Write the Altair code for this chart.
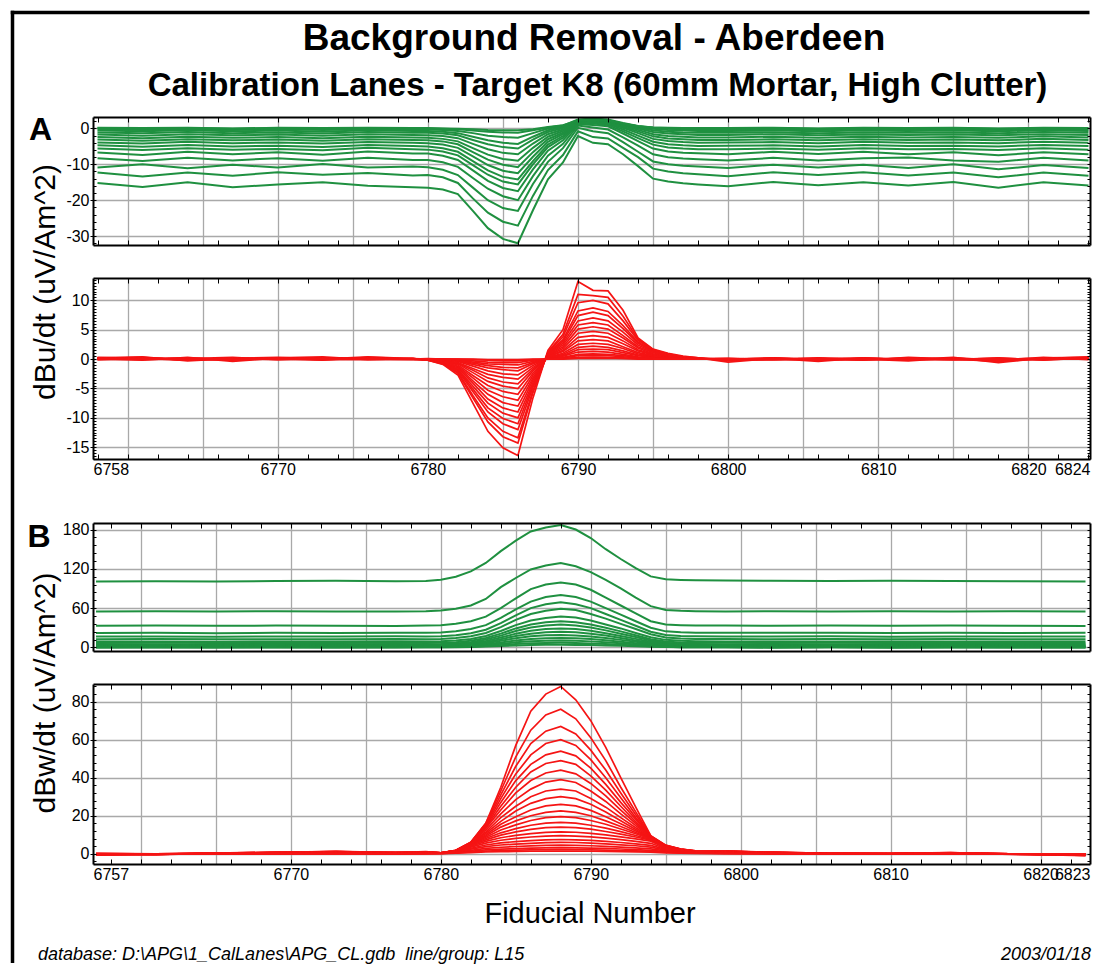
import altair as alt
import pandas as pd

# ---------------- text ----------------
TITLE = ["Background Removal - Aberdeen"]
SUBTITLE = ["Calibration Lanes - Target K8 (60mm Mortar, High Clutter)"]
LABEL_A = ["A"]
LABEL_B = ["B"]
YTITLE_U = ["dBu/dt (uV/Am^2)"]
YTITLE_W = ["dBw/dt (uV/Am^2)"]
XTITLE = ["Fiducial Number"]
FOOT_LEFT = ["database: D:\\APG\\1_CalLanes\\APG_CL.gdb\u00a0 line/group: L15"]
FOOT_RIGHT = ["2003/01/18"]

# ---------------- fiducials ----------------
XA = [6758, 6761, 6764, 6767, 6770, 6773, 6776, 6779,
      6780, 6781, 6782, 6783, 6784, 6785, 6786, 6787, 6788, 6789, 6790,
      6791, 6792, 6793, 6794, 6795, 6796, 6797, 6798,
      6800, 6803, 6806, 6809, 6812, 6815, 6818, 6821, 6824]
XB = [6757, 6761, 6765, 6769, 6773, 6777, 6779,
      6780, 6781, 6782, 6783, 6784, 6785, 6786, 6787, 6788,
      6789, 6790, 6791, 6792, 6793, 6794, 6795, 6796, 6797,
      6799, 6802, 6806, 6810, 6814, 6818, 6823]

# ---------------- A: dBu/dt raw (green) ----------------
A_RAW = [
    [-15.2, -16.3, -15.0, -16.4, -15.6, -15.0, -16.0, -16.4,
     -16.5, -17.0, -18.3, -23.0, -27.8, -30.8, -32.0, -22.8, -14.2, -9.5, -2.1, -4.0, -4.4, -7.2, -10.5, -14.0, -14.8, -15.3, -15.6,
     -16.1, -14.9, -15.8, -15.0, -15.9, -14.9, -16.5, -15.0, -15.9],
    [-12.3, -13.4, -12.3, -13.2, -12.2, -12.9, -12.4, -13.1,
     -13.0, -13.6, -15.2, -19.5, -23.5, -26.0, -27.1, -18.8, -11.6, -7.4, -0.8, -2.4, -2.8, -5.4, -8.0, -11.2, -12.0, -12.5, -12.8,
     -13.3, -12.2, -13.0, -12.2, -13.1, -12.3, -13.6, -12.3, -13.2],
    [-10.9, -10.0, -11.1, -10.1, -10.9, -9.9, -10.9, -10.6,
     -10.8, -11.5, -13.0, -16.5, -20.0, -22.2, -23.0, -15.5, -9.3, -5.5, 0.2, -0.8, -1.3, -3.8, -6.5, -9.2, -10.0, -10.4, -10.6,
     -11.0, -10.1, -10.9, -10.1, -11.0, -10.0, -11.4, -10.2, -11.0],
    [-8.3, -9.1, -8.2, -8.9, -8.3, -9.0, -8.2, -8.8,
     -8.8, -9.4, -10.7, -13.8, -16.8, -18.9, -20.0, -13.3, -7.6, -4.3, 0.8, 0.3, -0.3, -2.5, -4.8, -7.2, -8.0, -8.4, -8.6,
     -8.9, -8.2, -8.9, -8.3, -8.1, -8.9, -9.3, -8.2, -8.9],
    [-6.7, -7.4, -6.5, -7.2, -6.6, -7.3, -6.4, -7.0,
     -7.0, -7.6, -8.8, -11.7, -14.6, -16.6, -17.5, -11.4, -6.2, -3.3, 1.2, 1.0, 0.6, -1.4, -3.5, -5.6, -6.4, -6.8, -6.9,
     -7.2, -6.5, -7.1, -6.5, -7.2, -6.6, -7.5, -6.6, -7.2],
    [-5.6, -6.0, -5.5, -5.9, -5.7, -6.1, -5.4, -5.8,
     -5.9, -6.4, -7.5, -10.2, -12.9, -14.8, -15.6, -10.0, -5.2, -2.6, 1.4, 1.4, 1.0, -0.8, -2.7, -4.5, -5.3, -5.6, -5.8,
     -5.8, -5.6, -5.9, -5.5, -5.8, -5.7, -6.0, -5.5, -5.9],
    [-4.7, -5.1, -4.6, -5.0, -4.8, -5.2, -4.6, -4.9,
     -5.0, -5.5, -6.5, -9.1, -11.7, -13.5, -14.2, -9.1, -4.5, -2.1, 1.6, 1.7, 1.3, -0.3, -2.0, -3.7, -4.4, -4.7, -4.9,
     -4.8, -4.7, -5.0, -4.6, -4.9, -4.8, -5.0, -4.6, -4.9],
    [-3.9, -4.2, -3.7, -4.1, -3.9, -4.2, -3.8, -4.0,
     -4.1, -4.5, -5.4, -7.8, -10.2, -11.8, -12.5, -7.9, -3.7, -1.6, 1.8, 1.9, 1.6, 0.2, -1.3, -2.9, -3.5, -3.8, -4.0,
     -3.9, -3.8, -4.1, -3.7, -4.0, -3.9, -4.1, -3.7, -4.0],
    [-3.1, -3.4, -3.0, -3.3, -3.1, -3.4, -3.0, -3.2,
     -3.3, -3.6, -4.4, -6.6, -8.7, -10.1, -10.8, -6.6, -3.0, -1.2, 1.9, 2.0, 1.8, 0.5, -0.8, -2.2, -2.8, -3.0, -3.2,
     -3.2, -3.0, -3.3, -3.0, -3.2, -3.1, -3.3, -2.9, -3.2],
    [-2.4, -2.7, -2.3, -2.6, -2.4, -2.7, -2.3, -2.5,
     -2.6, -2.9, -3.6, -5.5, -7.3, -8.5, -9.0, -5.4, -2.3, -0.7, 2.0, 2.2, 1.9, 0.8, -0.4, -1.6, -2.1, -2.3, -2.5,
     -2.5, -2.3, -2.6, -2.3, -2.5, -2.4, -2.6, -2.2, -2.5],
    [-1.7, -2.0, -1.6, -1.9, -1.7, -2.0, -1.6, -1.8,
     -1.9, -2.1, -2.7, -4.3, -5.8, -6.8, -7.2, -4.2, -1.6, -0.3, 2.1, 2.3, 2.0, 1.0, 0.0, -1.0, -1.4, -1.6, -1.8,
     -1.8, -1.6, -1.9, -1.7, -1.8, -1.7, -1.9, -1.6, -1.8],
    [-1.1, -1.3, -1.0, -1.3, -1.1, -1.4, -1.0, -1.2,
     -1.2, -1.4, -1.9, -3.2, -4.4, -5.2, -5.6, -3.1, -1.0, 0.1, 2.2, 2.4, 2.1, 1.2, 0.3, -0.5, -0.9, -1.1, -1.2,
     -1.2, -1.1, -1.3, -1.1, -1.2, -1.1, -1.3, -1.0, -1.2],
    [-0.6, -0.8, -0.5, -0.8, -0.6, -0.9, -0.5, -0.7,
     -0.7, -0.9, -1.3, -2.3, -3.3, -4.0, -4.3, -2.3, -0.5, 0.4, 2.3, 2.5, 2.2, 1.3, 0.5, -0.1, -0.4, -0.6, -0.7,
     -0.7, -0.6, -0.8, -0.6, -0.7, -0.6, -0.8, -0.5, -0.7],
    [-0.2, -0.4, -0.2, -0.4, -0.2, -0.4, -0.2, -0.3,
     -0.3, -0.4, -0.7, -1.3, -2.0, -2.4, -2.6, -1.3, 0.0, 0.6, 2.4, 2.6, 2.3, 1.4, 0.6, 0.1, -0.1, -0.2, -0.3,
     -0.3, -0.2, -0.4, -0.2, -0.3, -0.2, -0.4, -0.2, -0.3],
    [0.1, -0.1, 0.1, -0.1, 0.1, -0.1, 0.1, 0.0,
     0.0, -0.1, -0.2, -0.6, -0.9, -1.1, -1.2, -0.5, 0.3, 0.8, 2.5, 2.8, 2.5, 1.5, 0.7, 0.3, 0.1, 0.0, 0.0,
     0.0, 0.1, -0.1, 0.1, 0.0, 0.1, -0.1, 0.1, 0.0],
    [0.2, 0.1, 0.2, 0.0, 0.2, 0.1, 0.2, 0.1,
     0.1, 0.0, -0.1, -0.2, -0.4, -0.5, -0.5, -0.2, 0.4, 0.9, 2.2, 2.4, 2.2, 1.3, 0.6, 0.3, 0.2, 0.1, 0.1,
     0.1, 0.2, 0.0, 0.2, 0.1, 0.2, 0.0, 0.2, 0.1],
]

# ---------------- A: dBu/dt background removed (red) ----------------
A_REM = [
    [0.2, 0.4, -0.3, 0.1, 0.3, 0.0, 0.4, 0.1,
     -0.2, -0.9, -2.7, -7.5, -12.3, -15.1, -16.4, -6.6, 1.5, 5.0, 13.2, 11.7, 11.6, 8.3, 3.6, 1.7, 1.0, 0.5, 0.2,
     -0.5, 0.1, -0.4, 0.2, -0.1, 0.3, -0.6, 0.2, 0.3],
    [0.0, -0.2, 0.3, -0.4, 0.2, 0.4, -0.1, 0.0,
     -0.2, -0.8, -2.4, -6.6, -10.7, -13.2, -14.3, -5.7, 1.2, 4.2, 11.0, 10.8, 10.5, 7.3, 3.4, 1.6, 0.9, 0.4, 0.2,
     -0.3, 0.2, 0.0, -0.2, 0.3, 0.0, -0.4, 0.1, 0.4],
    [0.3, 0.1, -0.2, 0.2, 0.0, -0.2, 0.3, 0.1,
     -0.2, -0.7, -2.2, -6.2, -10.0, -12.3, -13.4, -5.4, 1.1, 3.8, 9.6, 10.0, 9.4, 6.5, 3.2, 1.5, 0.8, 0.4, 0.2,
     -0.2, -0.1, 0.2, 0.0, -0.3, 0.2, -0.2, 0.3, -0.1],
    [-0.1, 0.2, 0.0, -0.2, 0.2, 0.1, 0.0, -0.1,
     -0.1, -0.7, -2.0, -5.5, -9.0, -11.0, -12.0, -4.8, 1.0, 3.3, 8.2, 8.7, 8.1, 5.7, 2.9, 1.4, 0.8, 0.3, 0.1,
     0.0, 0.2, -0.2, 0.1, 0.0, -0.1, 0.2, -0.2, 0.2],
    [0.2, -0.1, 0.1, 0.3, -0.1, 0.2, 0.1, 0.0,
     -0.1, -0.6, -1.8, -5.1, -8.3, -10.1, -11.0, -4.4, 0.9, 3.0, 7.4, 8.0, 7.4, 5.2, 2.7, 1.3, 0.7, 0.3, 0.1,
     -0.2, 0.0, 0.1, -0.1, 0.2, 0.0, -0.3, 0.1, 0.0],
    [0.1, 0.3, -0.2, 0.0, 0.2, -0.1, 0.2, 0.0,
     -0.1, -0.5, -1.7, -4.6, -7.5, -9.2, -10.0, -4.0, 0.8, 2.7, 6.5, 7.0, 6.5, 4.6, 2.4, 1.2, 0.6, 0.3, 0.1,
     0.1, -0.1, 0.0, 0.2, -0.1, 0.1, 0.0, -0.1, 0.3],
    [0.0, 0.1, 0.2, -0.1, 0.1, 0.0, -0.1, 0.1,
     -0.1, -0.5, -1.5, -4.1, -6.8, -8.3, -9.0, -3.6, 0.7, 2.4, 5.8, 6.2, 5.8, 4.0, 2.1, 1.1, 0.6, 0.2, 0.1,
     -0.1, 0.1, -0.1, 0.0, 0.1, -0.1, 0.1, 0.0, 0.1],
    [0.2, 0.0, -0.1, 0.1, 0.0, 0.2, 0.0, 0.1,
     -0.1, -0.4, -1.3, -3.7, -6.0, -7.4, -8.0, -3.2, 0.6, 2.1, 5.1, 5.5, 5.1, 3.6, 1.9, 0.9, 0.5, 0.2, 0.1,
     0.0, 0.0, 0.1, -0.1, 0.0, 0.1, -0.1, 0.1, 0.0],
    [-0.1, 0.1, 0.0, 0.1, -0.1, 0.1, 0.1, 0.0,
     -0.1, -0.4, -1.2, -3.2, -5.3, -6.4, -7.0, -2.8, 0.5, 1.8, 4.4, 4.7, 4.4, 3.1, 1.6, 0.8, 0.4, 0.2, 0.1,
     0.1, -0.1, 0.0, 0.1, 0.0, 0.0, 0.1, -0.1, 0.1],
    [0.1, 0.0, 0.1, 0.0, 0.1, -0.1, 0.0, 0.1,
     -0.1, -0.3, -1.0, -2.8, -4.5, -5.5, -6.0, -2.4, 0.4, 1.5, 3.7, 4.0, 3.7, 2.6, 1.4, 0.7, 0.4, 0.2, 0.0,
     0.0, 0.1, 0.0, -0.1, 0.1, 0.0, 0.0, 0.1, 0.0],
    [0.0, 0.1, -0.1, 0.1, 0.0, 0.1, 0.0, 0.0,
     0.0, -0.3, -0.8, -2.3, -3.8, -4.6, -5.0, -2.0, 0.4, 1.3, 3.1, 3.3, 3.1, 2.1, 1.1, 0.6, 0.3, 0.1, 0.0,
     0.1, 0.0, -0.1, 0.0, 0.0, 0.1, 0.0, 0.0, 0.1],
    [0.1, 0.0, 0.0, 0.1, 0.0, 0.0, 0.1, 0.0,
     0.0, -0.2, -0.7, -1.9, -3.2, -3.9, -4.2, -1.7, 0.3, 1.0, 2.5, 2.7, 2.5, 1.8, 0.9, 0.5, 0.2, 0.1, 0.0,
     0.0, 0.0, 0.1, 0.0, -0.1, 0.0, 0.1, 0.0, 0.0],
    [0.0, 0.0, 0.1, 0.0, 0.1, 0.0, 0.0, 0.0,
     0.0, -0.2, -0.6, -1.6, -2.6, -3.1, -3.4, -1.4, 0.2, 0.8, 2.0, 2.2, 2.0, 1.4, 0.7, 0.4, 0.2, 0.1, 0.0,
     0.0, 0.1, 0.0, 0.0, 0.0, -0.1, 0.0, 0.1, 0.0],
    [0.1, 0.1, 0.0, 0.0, 0.0, 0.1, 0.0, 0.1,
     0.0, -0.1, -0.4, -1.2, -2.0, -2.5, -2.7, -1.1, 0.2, 0.6, 1.6, 1.7, 1.6, 1.1, 0.6, 0.3, 0.2, 0.1, 0.0,
     0.1, 0.0, 0.0, 0.1, 0.0, 0.0, 0.0, 0.0, 0.1],
    [0.0, 0.0, 0.0, 0.1, 0.0, 0.0, 0.1, 0.0,
     0.0, -0.1, -0.3, -0.9, -1.5, -1.8, -2.0, -0.8, 0.1, 0.5, 1.2, 1.3, 1.2, 0.8, 0.4, 0.2, 0.1, 0.0, 0.0,
     0.0, 0.0, 0.1, 0.0, 0.0, 0.0, 0.1, 0.0, 0.0],
    [0.0, 0.1, 0.0, 0.0, 0.1, 0.0, 0.0, 0.0,
     0.0, -0.1, -0.2, -0.7, -1.1, -1.4, -1.5, -0.6, 0.1, 0.3, 0.8, 0.9, 0.8, 0.6, 0.3, 0.2, 0.1, 0.0, 0.0,
     0.0, 0.0, 0.0, 0.0, 0.1, 0.0, 0.0, 0.0, 0.0],
    [0.1, 0.0, 0.0, 0.0, 0.0, 0.0, 0.0, 0.0,
     0.0, 0.0, -0.2, -0.5, -0.8, -0.9, -1.0, -0.4, 0.1, 0.2, 0.6, 0.6, 0.6, 0.4, 0.2, 0.1, 0.0, 0.0, 0.0,
     0.0, 0.0, 0.0, 0.0, 0.0, 0.0, 0.0, 0.1, 0.0],
    [0.0, 0.0, 0.0, 0.0, 0.0, 0.1, 0.0, 0.0,
     0.0, 0.0, -0.1, -0.3, -0.5, -0.6, -0.6, -0.2, 0.0, 0.1, 0.3, 0.35, 0.3, 0.2, 0.1, 0.1, 0.0, 0.0, 0.0,
     0.0, 0.0, 0.0, 0.0, 0.0, 0.0, 0.0, 0.0, 0.0],
    [0.0, 0.0, 0.0, 0.0, 0.0, 0.0, 0.0, 0.0,
     0.0, 0.0, 0.0, -0.1, -0.2, -0.3, -0.3, -0.1, 0.0, 0.1, 0.2, 0.2, 0.2, 0.1, 0.1, 0.0, 0.0, 0.0, 0.0,
     0.0, 0.0, 0.0, 0.0, 0.0, 0.0, 0.0, 0.0, 0.0],
    [0.0, 0.0, 0.0, 0.0, 0.0, 0.0, 0.0, 0.0,
     0.1, 0.0, 0.0, 0.0, -0.1, -0.1, -0.1, 0.0, 0.0, 0.0, 0.1, 0.1, 0.1, 0.1, 0.0, 0.0, 0.0, 0.0, 0.0,
     0.0, 0.0, 0.0, 0.0, 0.0, 0.0, 0.0, 0.0, 0.0],
]

# ---------------- B: dBw/dt raw (green) ----------------
B_RAW = [
    [100.5, 101.0, 100.8, 101.3, 101.8, 101.0, 101.5,
     103.5, 108, 116, 129, 147, 163, 177, 183, 187, 180, 167, 150, 135, 121, 108.5, 104, 103, 102.5,
     102.0, 101.8, 101.5, 101.8, 101.3, 101.0, 100.5],
    [55.0, 55.3, 54.8, 55.2, 55.0, 54.7, 55.2,
     56.5, 59, 64, 74, 92, 106, 119, 125, 129, 124, 115, 103, 90, 76, 63, 57, 55.8, 55.3,
     55.0, 55.3, 54.9, 55.2, 54.8, 55.1, 54.8],
    [33.0, 33.5, 33.0, 33.3, 33.0, 32.8, 33.3,
     34, 36, 40, 47, 60, 75, 89, 96, 99, 96, 88, 76, 64, 52, 40, 35, 34, 33.5,
     33.5, 33.0, 33.5, 33.0, 33.5, 33.2, 32.5],
    [22.0, 22.3, 21.8, 22.3, 22.0, 22.5, 22.3,
     22.8, 24.5, 28, 34, 45, 58, 70, 77, 80, 77, 70, 60, 50, 40, 30, 24.5, 23, 22.5,
     22.5, 22.2, 22.5, 22.0, 22.4, 22.0, 22.2],
    [16.5, 16.8, 16.3, 16.7, 16.5, 16.9, 16.7,
     17, 18.5, 21.5, 27, 37, 49, 60, 66, 69, 66, 60, 51, 42, 33, 24, 19, 17.5, 17,
     16.8, 16.5, 16.9, 16.4, 16.8, 16.5, 16.6],
    [12.4, 12.7, 12.3, 12.6, 12.4, 12.8, 12.6,
     13, 14.3, 17, 22, 31, 42, 51, 56, 59, 57, 51, 44, 36, 28, 20, 15, 13.5, 13,
     12.7, 12.4, 12.8, 12.4, 12.7, 12.4, 12.5],
    [8.9, 9.2, 8.8, 9.1, 8.9, 9.3, 9.1,
     9.4, 10.5, 13, 17.5, 25, 34, 41, 45, 47, 45.5, 41, 35, 29, 22, 15.5, 11.5, 10, 9.5,
     9.2, 8.9, 9.2, 8.9, 9.1, 8.9, 9.0],
    [6.7, 7.0, 6.6, 6.9, 6.7, 7.1, 6.9,
     7.1, 8.0, 10.3, 14.5, 21, 29, 35, 38.5, 40, 38.5, 35, 30, 24.5, 18.5, 12.5, 9, 7.6, 7.2,
     7.0, 6.7, 7.0, 6.7, 6.9, 6.7, 6.8],
    [4.7, 5.0, 4.6, 4.9, 4.7, 5.1, 4.9,
     5.1, 6.0, 8.0, 12, 18, 25, 30.5, 33.5, 35, 33.5, 30.5, 26, 21, 16, 10.5, 7, 5.6, 5.2,
     5.0, 4.7, 5.0, 4.7, 4.9, 4.7, 4.8],
    [3.4, 3.7, 3.3, 3.6, 3.4, 3.8, 3.6,
     3.8, 4.5, 6.3, 9.8, 15, 21, 25.5, 28, 29, 28, 25.5, 21.5, 17.5, 13, 8.5, 5.5, 4.2, 3.8,
     3.7, 3.4, 3.7, 3.4, 3.6, 3.4, 3.5],
    [2.4, 2.7, 2.3, 2.6, 2.4, 2.8, 2.6,
     2.8, 3.4, 5.0, 8.0, 12.5, 17.5, 21, 23, 24, 23, 21, 18, 14.5, 10.5, 7, 4.3, 3.1, 2.8,
     2.7, 2.4, 2.7, 2.4, 2.6, 2.4, 2.5],
    [1.5, 1.8, 1.4, 1.7, 1.5, 1.9, 1.7,
     1.9, 2.4, 3.8, 6.4, 10, 14, 17, 18.5, 19, 18.3, 16.8, 14.3, 11.5, 8.5, 5.5, 3.2, 2.2, 1.9,
     1.8, 1.5, 1.8, 1.5, 1.7, 1.5, 1.6],
    [0.8, 1.1, 0.7, 1.0, 0.8, 1.2, 1.0,
     1.1, 1.6, 2.7, 4.8, 7.6, 10.7, 13, 14.1, 14.5, 14, 12.8, 11, 8.8, 6.5, 4.2, 2.3, 1.4, 1.1,
     1.1, 0.8, 1.1, 0.8, 1.0, 0.8, 0.9],
    [0.3, 0.6, 0.3, 0.5, 0.3, 0.6, 0.5,
     0.6, 0.9, 1.8, 3.4, 5.4, 7.7, 9.4, 10.2, 10.5, 10.1, 9.2, 7.9, 6.3, 4.6, 2.9, 1.5, 0.8, 0.6,
     0.6, 0.3, 0.6, 0.3, 0.5, 0.3, 0.4],
    [0.0, 0.2, 0.0, 0.2, 0.0, 0.2, 0.1,
     0.2, 0.5, 1.1, 2.2, 3.6, 5.1, 6.2, 6.8, 7.0, 6.7, 6.1, 5.2, 4.2, 3.0, 1.9, 0.9, 0.4, 0.2,
     0.2, 0.0, 0.2, 0.0, 0.1, 0.0, 0.1],
    [0.1, 0.0, 0.1, -0.1, 0.1, 0.0, 0.1,
     0.1, 0.3, 0.6, 1.2, 2.0, 2.9, 3.5, 3.9, 4.0, 3.8, 3.5, 3.0, 2.4, 1.7, 1.1, 0.5, 0.2, 0.1,
     0.1, 0.0, 0.1, 0.0, 0.0, 0.1, 0.0],
]

# ---------------- B: dBw/dt background removed (red) ----------------
B_REM = [
    [-0.8, -0.4, 0.2, 0.6, 1.2, 0.6, 1.0,
     0.5, 1.8, 6.0, 16, 35, 57, 75, 84, 88, 81, 70, 56, 40, 24.5, 9.5, 4.5, 2.5, 1.5,
     1.5, 0.8, 0.2, 0.0, 0.6, -0.2, -1.0],
    [-0.4, -0.6, 0.4, 0.8, 1.0, 0.8, 0.8,
     0.5, 1.8, 6.0, 16, 33, 51, 65, 73, 76, 71, 61, 49, 35, 22, 9.3, 4.4, 2.4, 1.5,
     1.4, 0.6, 0.4, -0.2, 0.4, 0.0, -0.9],
    [-0.6, 0.0, 0.0, 0.4, 1.2, 0.4, 1.0,
     0.5, 1.7, 5.9, 15.5, 31, 46, 58, 64.5, 67, 63, 54.5, 44, 32, 20.5, 9.2, 4.3, 2.4, 1.4,
     1.3, 0.8, 0.0, 0.2, 0.6, -0.4, -0.8],
    [-0.2, -0.4, 0.4, 0.6, 1.0, 0.6, 1.1,
     0.5, 1.7, 5.8, 15, 29, 42, 52, 58, 60, 57, 49.5, 40, 29.5, 19, 9.0, 4.2, 2.3, 1.4,
     1.3, 0.6, 0.2, 0.0, 0.4, 0.0, -0.9],
    [-0.4, -0.2, 0.2, 0.8, 1.1, 0.4, 0.8,
     0.5, 1.7, 5.8, 14.5, 27, 38.5, 47, 52, 54, 51.5, 45, 36.5, 27, 18, 8.9, 4.1, 2.3, 1.3,
     1.2, 0.6, 0.4, 0.0, 0.4, -0.2, -0.6],
    [-0.6, -0.2, 0.4, 0.6, 0.8, 0.6, 1.0,
     0.5, 1.6, 5.7, 14, 25, 35, 43, 47.5, 49, 47, 41, 33.5, 25, 16.8, 8.8, 4.0, 2.2, 1.3,
     1.2, 0.8, 0.2, 0.2, 0.2, 0.0, -0.7],
    [0.0, -0.4, 0.2, 0.4, 1.0, 0.4, 0.8,
     0.5, 1.6, 5.6, 13.5, 23, 32, 38.5, 42.5, 44, 42, 37, 30.5, 23, 15.8, 8.7, 3.9, 2.2, 1.2,
     1.1, 0.6, 0.0, 0.0, 0.4, -0.2, -0.6],
    [-0.2, 0.0, 0.0, 0.6, 0.8, 0.6, 0.8,
     0.4, 1.6, 5.5, 12.5, 21, 28.5, 34, 37.7, 39, 37.5, 33, 27.5, 21, 14.8, 8.6, 3.8, 2.1, 1.2,
     1.0, 0.4, 0.2, 0.2, 0.4, 0.0, -0.4],
    [0.0, -0.2, 0.2, 0.4, 0.8, 0.4, 0.6,
     0.4, 1.5, 5.4, 11.5, 19, 25, 30, 33, 34, 33, 29, 24.5, 19, 13.7, 8.5, 3.7, 2.0, 1.1,
     1.0, 0.6, 0.2, 0.0, 0.2, 0.0, -0.6],
    [-0.2, 0.0, 0.2, 0.4, 0.6, 0.4, 0.6,
     0.4, 1.5, 5.3, 10.8, 17, 22.5, 26.5, 29, 30, 29, 26, 22, 17.3, 12.8, 8.3, 3.6, 2.0, 1.1,
     0.9, 0.4, 0.0, 0.2, 0.2, 0.0, -0.4],
    [0.0, 0.0, 0.0, 0.4, 0.6, 0.2, 0.6,
     0.4, 1.5, 5.2, 10, 15.5, 19.5, 23, 25.2, 26, 25.2, 22.8, 19.5, 15.8, 12, 8.2, 3.5, 1.9, 1.0,
     0.8, 0.4, 0.2, 0.0, 0.2, 0.0, -0.4],
    [0.2, -0.2, 0.2, 0.2, 0.6, 0.4, 0.4,
     0.4, 1.4, 5.0, 9.3, 14, 17.3, 20, 21.8, 22.5, 21.8, 20, 17.3, 14.3, 11.2, 8.0, 3.4, 1.9, 1.0,
     0.8, 0.4, 0.0, 0.0, 0.2, 0.0, -0.2],
    [0.0, 0.0, 0.2, 0.4, 0.4, 0.2, 0.6,
     0.4, 1.4, 4.9, 8.7, 12.5, 15.2, 17.5, 19, 19.5, 19, 17.5, 15.5, 13, 10.5, 7.8, 3.3, 1.8, 1.0,
     0.7, 0.4, 0.2, 0.0, 0.0, 0.0, -0.2],
    [0.0, 0.0, 0.0, 0.2, 0.6, 0.2, 0.4,
     0.4, 1.4, 4.7, 8.0, 11, 13.2, 15, 16.1, 16.5, 16.1, 15, 13.5, 11.6, 9.6, 7.5, 3.2, 1.8, 0.9,
     0.6, 0.2, 0.0, 0.0, 0.2, 0.0, -0.2],
    [0.2, 0.0, 0.2, 0.2, 0.4, 0.2, 0.4,
     0.3, 1.3, 4.5, 7.3, 9.8, 11.5, 12.8, 13.7, 14, 13.7, 12.9, 11.7, 10.3, 8.8, 7.2, 3.1, 1.7, 0.9,
     0.6, 0.4, 0.0, 0.0, 0.2, 0.0, 0.0],
    [0.0, 0.0, 0.0, 0.2, 0.4, 0.2, 0.4,
     0.3, 1.2, 4.0, 6.5, 8.4, 9.7, 10.6, 11.2, 11.5, 11.3, 10.7, 9.9, 8.9, 7.8, 6.6, 3.0, 1.6, 0.9,
     0.6, 0.2, 0.0, 0.0, 0.0, 0.0, -0.2],
    [0.0, 0.0, 0.2, 0.2, 0.2, 0.2, 0.4,
     0.3, 1.1, 3.5, 5.6, 7.1, 8.1, 8.8, 9.3, 9.5, 9.3, 8.9, 8.2, 7.4, 6.5, 5.5, 2.7, 1.5, 0.8,
     0.5, 0.2, 0.0, 0.0, 0.0, 0.0, 0.0],
    [0.0, 0.0, 0.0, 0.2, 0.2, 0.0, 0.2,
     0.3, 1.0, 2.9, 4.6, 5.7, 6.4, 6.9, 7.3, 7.5, 7.3, 7.0, 6.5, 5.9, 5.2, 4.4, 2.3, 1.3, 0.7,
     0.5, 0.2, 0.0, 0.0, 0.0, 0.0, 0.0],
    [0.0, 0.0, 0.0, 0.0, 0.2, 0.0, 0.2,
     0.3, 0.9, 2.4, 3.7, 4.6, 5.1, 5.5, 5.8, 6.0, 5.9, 5.6, 5.2, 4.7, 4.2, 3.5, 1.9, 1.1, 0.6,
     0.4, 0.2, 0.0, 0.0, 0.0, 0.0, 0.0],
    [0.0, 0.0, 0.0, 0.0, 0.2, 0.0, 0.2,
     0.2, 0.7, 1.8, 2.8, 3.4, 3.8, 4.1, 4.4, 4.5, 4.4, 4.2, 3.9, 3.5, 3.1, 2.6, 1.5, 0.9, 0.5,
     0.3, 0.0, 0.0, 0.0, 0.0, 0.0, 0.0],
    [0.0, 0.0, 0.0, 0.0, 0.0, 0.0, 0.2,
     0.2, 0.5, 1.3, 2.0, 2.4, 2.7, 2.9, 3.1, 3.2, 3.1, 3.0, 2.8, 2.5, 2.2, 1.8, 1.1, 0.7, 0.4,
     0.2, 0.0, 0.0, 0.0, 0.0, 0.0, 0.0],
    [0.0, 0.0, 0.0, 0.0, 0.0, 0.0, 0.1,
     0.2, 0.4, 0.9, 1.4, 1.7, 1.9, 2.0, 2.1, 2.2, 2.1, 2.0, 1.9, 1.7, 1.5, 1.2, 0.8, 0.5, 0.3,
     0.2, 0.0, 0.0, 0.0, 0.0, 0.0, 0.0],
    [0.0, 0.0, 0.0, 0.0, 0.0, 0.0, 0.0,
     0.1, 0.3, 0.6, 0.9, 1.1, 1.2, 1.3, 1.4, 1.4, 1.4, 1.3, 1.2, 1.1, 1.0, 0.8, 0.5, 0.3, 0.2,
     0.1, 0.0, 0.0, 0.0, 0.0, 0.0, 0.0],
]

# ---------------- axes values ----------------
A_XDOM = [6757.7, 6824.1]
B_XDOM = [6756.8, 6823.3]
A_XLABELS = [6757.7, 6770, 6780, 6790, 6800, 6810, 6820, 6824.1]
B_XLABELS = [6756.8, 6770, 6780, 6790, 6800, 6810, 6820, 6823.3]
X_TICKS_A = list(range(6758, 6825, 2))
X_TICKS_B = list(range(6758, 6824, 2))
X_GRID = list(range(6760, 6821, 5))

A1_YDOM, A1_YMAJ, A1_YMIN = [-32.5, 3.2], [0, -10, -20, -30], list(range(-32, 3, 2))
A2_YDOM, A2_YMAJ, A2_YMIN = [-17.0, 13.8], [10, 5, 0, -5, -10, -15], [v / 2 for v in range(-34, 28)]
B1_YDOM, B1_YMAJ, B1_YMIN = [-5.5, 190], [0, 60, 120, 180], list(range(0, 190, 12))
B2_YDOM, B2_YMAJ, B2_YMIN = [-5.4, 89.3], [0, 20, 40, 60, 80], list(range(-4, 89, 4))

FONT = "Liberation Sans"
GRID = "#a9a9a9"
GREEN = "#1f9040"
RED = "#f51414"
W = 997


def to_frame(xs, series):
    rows = []
    for i, ys in enumerate(series):
        if len(ys) != len(xs):
            raise ValueError(f"series {i} has {len(ys)} values, expected {len(xs)}")
        for x, y in zip(xs, ys):
            rows.append({"x": x, "y": y, "s": i})
    return pd.DataFrame(rows)


def text_layer(values, x, y, size, weight="normal", style="normal",
               align="center", baseline="alphabetic", angle=0):
    kw = dict(font=FONT, fontSize=size, fontWeight=weight, fontStyle=style,
              align=align, baseline=baseline, color="black")
    if angle:
        kw["angle"] = angle
    return alt.Chart(pd.DataFrame({"t": values})).mark_text(**kw).encode(
        x=alt.value(x), y=alt.value(y), text="t:N")


def panel(df, color, width_px, xdom, ydom, h, ymaj, ymin, xticks, xlabels, decor):
    xs = alt.Scale(domain=xdom, zero=False, nice=False)
    ys = alt.Scale(domain=ydom, zero=False, nice=False)
    if xlabels is None:
        xaxis = None
    else:
        xaxis = alt.Axis(orient="bottom", values=xlabels,
                         labelExpr="'' + round(datum.value)",
                         labelFlush=True, labelOverlap=False, ticks=False,
                         domain=False, grid=False, labelFont=FONT,
                         labelFontSize=16, labelColor="black", labelPadding=2,
                         title=None)
    lines = alt.Chart(df).mark_line(color=color, strokeWidth=width_px, clip=True).encode(
        x=alt.X("x:Q", scale=xs, axis=xaxis),
        y=alt.Y("y:Q", scale=ys, axis=alt.Axis(
            orient="left", values=ymaj, grid=True, gridColor=GRID, gridWidth=1.3,
            ticks=True, tickSize=3, tickColor="black", domain=False,
            labelFont=FONT, labelFontSize=16, labelColor="black",
            labelPadding=1, labelExpr="'' + datum.value", title=None,
            zindex=0)),
        detail="s:N",
    )
    frame_style = dict(domain=True, domainColor="black", domainWidth=2,
                       ticks=True, tickColor="black", tickWidth=1,
                       labels=False, grid=False, title=None, zindex=1)
    base = alt.Chart(df).transform_aggregate(ax="min(x)", ay="min(y)").mark_point(opacity=0)
    l_grid = base.encode(
        x=alt.X("ax:Q", scale=xs, axis=alt.Axis(
            orient="bottom", values=X_GRID, grid=True, gridColor=GRID,
            gridWidth=1.3, ticks=False, labels=False, domain=False,
            title=None, zindex=0)),
        y=alt.Y("ay:Q", scale=ys, axis=alt.Axis(
            orient="right", offset=-W, values=ymin, tickSize=3, **frame_style)),
    )
    l_top = base.encode(
        x=alt.X("ax:Q", scale=xs, axis=alt.Axis(
            orient="bottom", offset=-h, values=xticks, tickSize=5, **frame_style)),
        y=alt.Y("ay:Q", scale=ys, axis=alt.Axis(
            orient="left", offset=-W, values=ymin, tickSize=3, **frame_style)),
    )
    l_bot = base.encode(
        x=alt.X("ax:Q", scale=xs, axis=alt.Axis(
            orient="top", offset=-h, values=xticks, tickSize=5, **frame_style)),
        y=alt.Y("ay:Q", scale=ys, axis=None),
    )
    return alt.layer(l_grid, lines, l_top, l_bot, *decor).resolve_axis(
        x="independent", y="independent").properties(width=W, height=h)


def spacer(h):
    return alt.Chart(pd.DataFrame({"t": FOOT_RIGHT})).mark_text(
        text=" ", opacity=0).encode(x=alt.value(0), y=alt.value(0)).properties(
        width=W, height=h)


# decorations (pixel offsets relative to each panel's plot area)
frame_df = pd.DataFrame({"t": TITLE})
frame_top = alt.Chart(frame_df).mark_rule(color="black", strokeWidth=3.5).encode(
    x=alt.value(-82.25), x2=alt.value(996.5), y=alt.value(-104.5))
frame_left = alt.Chart(frame_df).mark_rule(color="black", strokeWidth=3.5).encode(
    x=alt.value(-80.5), y=alt.value(-106.25), y2=alt.value(846))

decor_a1 = [
    frame_top, frame_left,
    text_layer(TITLE, 501, -67, 37, weight="bold"),
    text_layer(SUBTITLE, 504.5, -21, 33, weight="bold"),
    text_layer(LABEL_A, -52.5, 23, 32, weight="bold"),
    text_layer(YTITLE_U, -38, 165, 30, angle=270),
]
decor_b1 = [
    text_layer(LABEL_B, -54, 24, 32, weight="bold"),
    text_layer(YTITLE_W, -38, 170, 30, angle=270),
]
decor_b2 = [
    text_layer(XTITLE, 497, 239, 29),
    text_layer(FOOT_LEFT, -55, 276, 18, style="italic", align="left"),
    text_layer(FOOT_RIGHT, 998, 276, 18, style="italic", align="right"),
]

pA1 = panel(to_frame(XA, A_RAW), GREEN, 2.0, A_XDOM, A1_YDOM, 128, A1_YMAJ, A1_YMIN,
            X_TICKS_A, None, decor_a1)
pA2 = panel(to_frame(XA, A_REM), RED, 1.7, A_XDOM, A2_YDOM, 181, A2_YMAJ, A2_YMIN,
            X_TICKS_A, A_XLABELS, [])
pB1 = panel(to_frame(XB, B_RAW), GREEN, 2.0, B_XDOM, B1_YDOM, 128, B1_YMAJ, B1_YMIN,
            X_TICKS_B, None, decor_b1)
pB2 = panel(to_frame(XB, B_REM), RED, 1.7, B_XDOM, B2_YDOM, 180, B2_YMAJ, B2_YMIN,
            X_TICKS_B, B_XLABELS, decor_b2)

chart = alt.vconcat(
    pA1, spacer(33), pA2, spacer(64), pB1, spacer(33), pB2,
    spacing=0, bounds="flush",
).properties(padding=0, background="white").configure_view(stroke="transparent")

chart.save("out.html", embed_options={"renderer": "svg", "actions": False})
